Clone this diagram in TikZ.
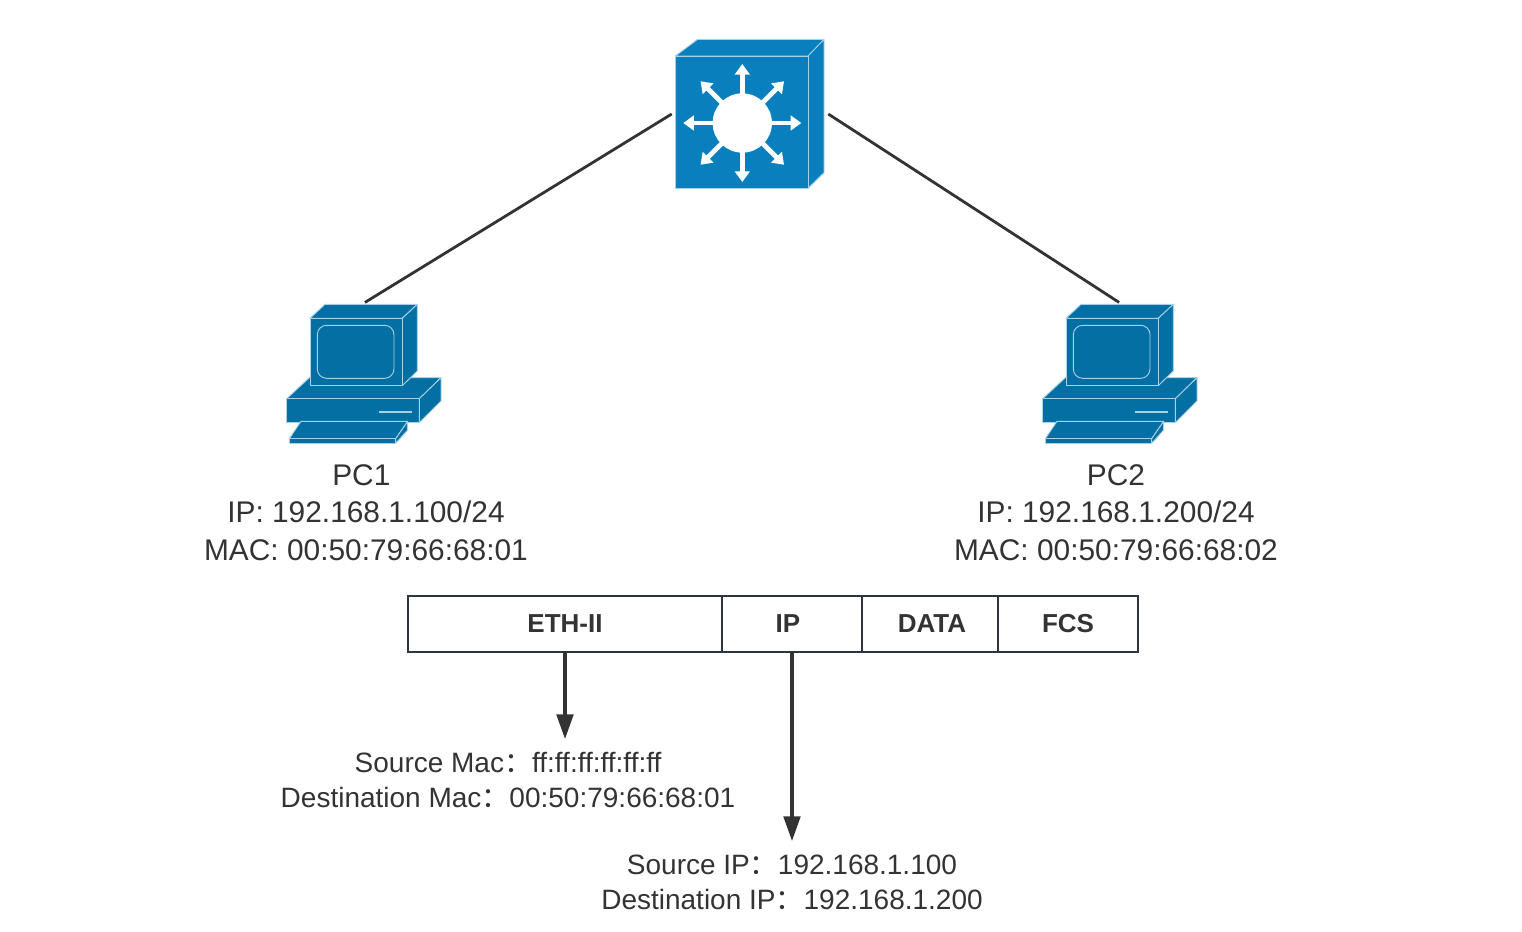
\documentclass[tikz,border=0pt]{standalone}
\usepackage{fontspec}
\setmainfont{Liberation Sans}
\newfontfamily\cjk{Noto Sans CJK SC}
\usepackage{xcolor}
\usetikzlibrary{arrows.meta,positioning}

\definecolor{pcblue}{HTML}{036FA3}
\definecolor{swblue}{HTML}{0A7FBE}
\definecolor{edgeblue}{HTML}{A5D2E6}
\definecolor{ink}{HTML}{333333}
\definecolor{framecol}{HTML}{2B3640}

\tikzset{
  wire/.style={draw=ink,line width=2.1pt},
  pointer/.style={draw=ink,line width=2.35pt,-{Triangle[length=18.5pt,width=12.5pt,color=ink]}},
  field/.style={draw=framecol,line width=2.15pt,outer sep=0pt,minimum height=42pt,inner sep=0pt,font=\fontsize{19.5}{23}\selectfont\bfseries,text=ink},
  info/.style={align=center,inner sep=0pt,text=ink,font=\fontsize{22.4}{28}\selectfont},
  detail/.style={align=center,inner sep=0pt,text=ink,font=\fontsize{21}{26.2}\selectfont},
  face/.style={fill=pcblue,draw=edgeblue,line width=.7pt,line join=round},
  pcbox/.pic={
    \path[face] (.7,94.7) -- (23.3,73.7) -- (155,73.7) -- (133.3,94.7) -- cycle;
    \path[face] (.7,94.7) rectangle (133.3,118.7);
    \path[face] (133.3,94.7) -- (155,73.7) -- (155,97) -- (133.3,118.7) -- cycle;
    \draw[edgeblue,line width=1pt] (93,108) -- (126.3,108);
    \path[face] (24,14.3) -- (39,.3) -- (131.3,.3) -- (116.3,14.3) -- cycle;
    \path[face] (116.3,14.3) -- (131.3,.3) -- (131.3,67) -- (116.3,81.7) -- cycle;
    \path[face] (24,14.3) rectangle (116.3,81.7);
    \draw[edgeblue,line width=.7pt,rounded corners=7pt] (31.3,21.3) rectangle (108,74.3);
    \path[face] (3.3,134.7) -- (15,117.3) -- (121.7,117.3) -- (109.7,134.7) -- cycle;
    \path[face] (109.7,134.7) -- (121.7,117.3) -- (121.7,126) -- (109.7,139.3) -- cycle;
    \path[face] (3.3,134.7) rectangle (109.7,139.3);
  }
}

\begin{document}
\begin{tikzpicture}[x=.75pt,y=-.75pt]
  \useasboundingbox (0,0) rectangle (1522,932);

  % switch
  \node[minimum width=117pt,minimum height=60pt,inner sep=0pt] (sw) at (750,114) {};
  \filldraw[fill=swblue,draw=edgeblue,line width=.7pt,line join=round]
    (675.3,56) -- (697.7,39.3) -- (824,39.3) -- (808,56) -- cycle
    (808,56) -- (824,39.3) -- (824,172.7) -- (808,188.3) -- cycle;
  \filldraw[fill=swblue,draw=edgeblue,line width=.7pt] (675.3,56) rectangle (808,188.3);
  \node[circle,fill=white,minimum size=44.5pt,inner sep=0pt] (hub) at (742.3,123) {};
  \foreach \ang in {0,45,...,315}
    \draw[white,line width=3.6pt,-{Triangle[length=8pt,width=11pt,color=white]}]
      ([shift={(\ang:28)}]hub.center) -- ([shift={(\ang:59)}]hub.center);

  % hosts
  \pic at (286,304) {pcbox};
  \pic at (1042,304) {pcbox};
  \node[inner sep=0pt] (pc1) at (364,303) {};
  \node[inner sep=0pt] (pc2) at (1120,303) {};
  \node[info] (pc1info) at (366,512.5) {PC1\kern7pt\\IP: 192.168.1.100/24\\MAC: 00:50:79:66:68:01};
  \node[info] (pc2info) at (1116,512.5) {PC2\\IP: 192.168.1.200/24\\MAC: 00:50:79:66:68:02};

  \foreach \from/\to in {sw.west/pc1,sw.east/pc2}
    \draw[wire] (\from) -- (\to);

  % frame
  \node[field,minimum width=235.5pt] (eth) at (565,624) {\raisebox{-.7pt}{ETH-II}};
  \node[field,minimum width=105pt,right=0pt of eth] (ip) {\raisebox{-.7pt}{IP}\kern6pt};
  \node[field,minimum width=102pt,right=0pt of ip] (data) {\kern3pt\raisebox{-.7pt}{DATA}};
  \node[field,minimum width=105pt,right=0pt of data] (fcs) {\raisebox{-.7pt}{FCS}};

  \coordinate (ethend) at (565,739);
  \coordinate (ipend) at (792,841);
  \draw[pointer] (eth.south) -- (ethend);
  \draw[pointer] (ip.south) -- (ipend);

  \node[detail] (ethinfo) at (508,780) {Source Mac{\cjk ：}ff:ff:ff:ff:ff:ff\\Destination Mac{\cjk ：}00:50:79:66:68:01};
  \node[detail] (ipinfo) at (792,882) {Source IP{\cjk ：}192.168.1.100\\Destination IP{\cjk ：}192.168.1.200};
\end{tikzpicture}
\end{document}
